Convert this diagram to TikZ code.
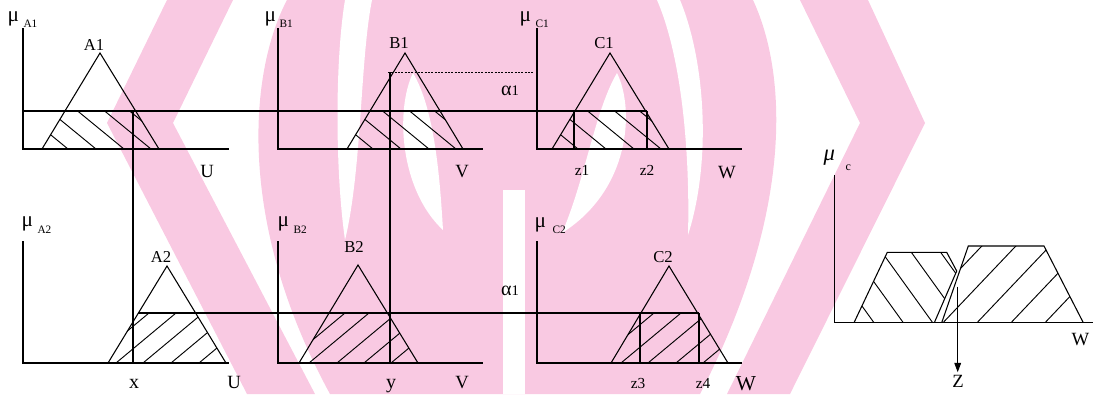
\documentclass[tikz,border=0pt]{standalone}
\usepackage{fontspec}
\setmainfont{Liberation Serif}
\usetikzlibrary{arrows.meta}
\definecolor{wmpink}{RGB}{249,201,226}
\tikzset{
  hatch/.style={line width=0.7pt},
  lbl/.style={inner sep=0pt, anchor=base, font=\fontsize{12.5}{12.5}\selectfont},
  axl/.style={inner sep=0pt, anchor=base, font=\fontsize{14}{14}\selectfont},
  zl/.style={inner sep=0pt, anchor=base, font=\fontsize{11.5}{11.5}\selectfont},
  mulab/.style={inner sep=0pt, anchor=base west, font=\fontsize{16}{16}\selectfont},
  musub/.style={inner sep=0pt, anchor=base west, font=\fontsize{8.5}{8.5}\selectfont},
  alab/.style={inner sep=0pt, anchor=base, font=\fontsize{15}{15}\selectfont},
}
\begin{document}
\begin{tikzpicture}[x=0.75pt,y=-0.75pt,line width=0.8pt]
\useasboundingbox (0,0) rectangle (1093,394);

% watermark
\fill[wmpink] (167,0) -- (107,123) -- (247,394) -- (315,394) -- (173,123) -- (233,0) -- cycle;
\fill[wmpink] (800,0) -- (860,123) -- (727,394) -- (790,394) -- (925,123) -- (868,0) -- cycle;
\fill[wmpink] (287,0) .. controls (250,70) and (235,220) .. (330,394) -- (700,394)
  .. controls (790,220) and (790,80) .. (753,0) -- cycle;
\fill[white] (345,0) .. controls (335,60) and (335,170) .. (345,240)
  .. controls (362,170) and (360,60) .. (372,0) -- cycle;
\fill[white] (680,0) .. controls (705,60) and (712,160) .. (688,235)
  .. controls (690,160) and (683,60) .. (657,0) -- cycle;
\fill[white] (413,73) .. controls (395,110) and (400,190) .. (443,230)
  .. controls (440,180) and (435,110) .. (413,73) -- cycle;
\fill[white] (617,73) .. controls (635,110) and (630,190) .. (562,233)
  .. controls (585,180) and (595,110) .. (617,73) -- cycle;
\fill[white] (503,190) rectangle (525,394);

% top row
\draw (23,28) -- (23,149) -- (229,149);
\draw (278,28) -- (278,149) -- (483,149);
\draw (537,28) -- (537,149) -- (742,149);
\draw (42,149) -- (100,53) -- (159,149);
\draw (347,149) -- (405,53) -- (463,149);
\draw (552,149) -- (610,53) -- (669,149);
\draw (23,111) -- (647,111);
\draw[line width=0.5pt, dash pattern=on 1.5pt off 1pt] (388,72) -- (533,72);
\draw (574,111) -- (574,149);
\draw (647,111) -- (647,149);

\begin{scope}
\clip (42,149) -- (65,111) -- (135.6,111) -- (159,149) -- cycle;
\foreach \b in {68,96,124,151,176} \draw[hatch] (\b,149) -- ++(-61,-50);
\end{scope}
\begin{scope}
\clip (347,149) -- (370,111) -- (440,111) -- (463,149) -- cycle;
\foreach \b in {373,401,429,456,481} \draw[hatch] (\b,149) -- ++(-61,-50);
\end{scope}
\begin{scope}
\clip (552,149) -- (575,111) -- (645.6,111) -- (669,149) -- cycle;
\foreach \b in {578,606,634,661,686} \draw[hatch] (\b,149) -- ++(-61,-50);
\end{scope}

% bottom row
\draw (23,241) -- (23,363) -- (229,363);
\draw (278,241) -- (278,363) -- (483,363);
\draw (537,241) -- (537,363) -- (742,363);
\draw (108,363) -- (167,266) -- (226,363);
\draw (299,363) -- (358,265) -- (418,363);
\draw (611,363) -- (669,266) -- (728,363);
\draw (138,313) -- (699,313);
\draw (640,313) -- (640,363);
\draw (699,313) -- (699,363);

\begin{scope}
\clip (108,363) -- (138.4,313) -- (195.6,313) -- (226,363) -- cycle;
\foreach \b in {89,116,143,171,199} \draw[hatch] (\b,363) -- ++(60,-50);
\end{scope}
\begin{scope}
\clip (299,363) -- (329,313) -- (387.4,313) -- (418,363) -- cycle;
\foreach \b in {285,309,337,364,391} \draw[hatch] (\b,363) -- ++(60,-50);
\end{scope}
\begin{scope}
\clip (611,363) -- (640.9,313) -- (697.6,313) -- (728,363) -- cycle;
\foreach \b in {594,621,648,676,703} \draw[hatch] (\b,363) -- ++(60,-50);
\end{scope}

% x and y
\draw (133,111) -- (133,363);
\draw (390,72) -- (390,363);

% result
\draw (834.3,175) -- (834.3,322.7) -- (1093,322.7);
\draw (854,322.7) -- (887.3,252.3) -- (946.7,252.3) -- (956.7,271) -- (934.3,322.7);
\draw (941.7,322.7) -- (968.3,246) -- (1044,246) -- (1083.3,322.7);
\begin{scope}
\clip (854,322.7) -- (887.3,252.3) -- (946.7,252.3) -- (956.7,271) -- (934.3,322.7) -- cycle;
\foreach \b in {874,903.3,932.7,962,991.3} \draw[hatch] (\b,322.7) -- ++(-54,-75);
\end{scope}
\begin{scope}
\clip (941.7,322.7) -- (968.3,246) -- (1044,246) -- (1083.3,322.7) -- cycle;
\foreach \b in {909,943,977,1011,1045} \draw[hatch] (\b,322.7) -- ++(76,-80);
\end{scope}

% labels
\node[mulab] (muA1) at (7,21) {μ};
\node[musub] (subA1) at (23,27) {A1};
\node[mulab] (muB1) at (264,21) {μ};
\node[musub] (subB1) at (279,27) {B1};
\node[mulab] (muC1) at (519,21) {μ};
\node[musub] (subC1) at (535,27) {C1};
\node[mulab] (muA2) at (21,226) {μ};
\node[musub] (subA2) at (37,233) {A2};
\node[mulab] (muB2) at (277,226) {μ};
\node[musub] (subB2) at (293,233) {B2};
\node[mulab] (muC2) at (534,227) {μ};
\node[musub] (subC2) at (552,233) {C2};
\node[mulab, font=\fontsize{17}{17}\selectfont\itshape] (muC) at (823,160) {μ};
\node[musub, font=\fontsize{9}{9}\selectfont] (subC) at (845,170) {c};

\node[lbl] (tA1) at (94,50) {A1};
\node[lbl] (tB1) at (399,48) {B1};
\node[lbl] (tC1) at (604,48) {C1};
\node[lbl] (tA2) at (161,262) {A2};
\node[lbl] (tB2) at (354,252) {B2};
\node[lbl] (tC2) at (663,262) {C2};

\node[alab] (al1) at (510,95) {α\fontsize{11}{11}\selectfont 1};
\node[alab] (al2) at (510,295) {α\fontsize{11}{11}\selectfont 1};

\node[axl] (U1) at (207,177) {U};
\node[axl] (V1) at (462,177) {V};
\node[zl] (z1) at (582,175) {z1};
\node[zl] (z2) at (647,175) {z2};
\node[axl] (W1) at (727,178) {W};
\node[axl, font=\fontsize{15}{15}\selectfont] (xl) at (134,388) {x};
\node[axl] (U2) at (234,388) {U};
\node[axl, font=\fontsize{15}{15}\selectfont] (yl) at (391,388) {y};
\node[axl] (V2) at (462,388) {V};
\node[zl] (z3) at (638,388) {z3};
\node[zl] (z4) at (703,388) {z4};
\node[axl, font=\fontsize{16}{16}\selectfont] (W2) at (746,390) {W};
\node[axl, anchor=base west] (W3) at (1071,345) {W};

\coordinate (zs) at (957.7,286.7);
\node[axl, inner sep=1.5pt] (zl) at (958,387) {Z};
\draw[-{Triangle[length=7pt,width=5pt]}] (zs) -- (zs |- zl.north);
\end{tikzpicture}
\end{document}
